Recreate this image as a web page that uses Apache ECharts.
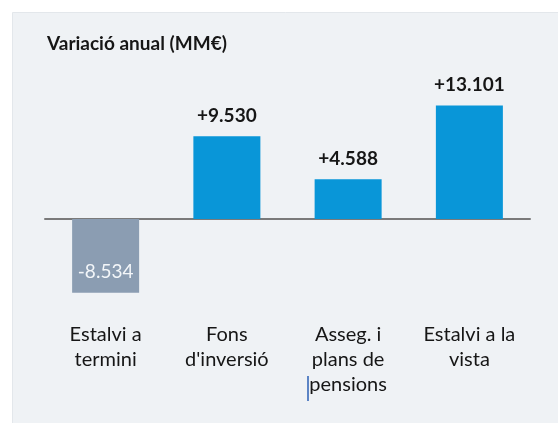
<!DOCTYPE html>
<html>
<head>
<meta charset="utf-8">
<script src="https://cdn.jsdelivr.net/npm/echarts@6/dist/echarts.min.js"></script>
<style>
    html, body { margin: 0; padding: 0; background: #ffffff; }
    #main { width: 558px; height: 423px; }
</style>
</head>
<body>
<div id="main"></div>
<script>
let categories = ['Estalvi a\ntermini', "Fons\nd'inversió", 'Asseg. i\nplans de\npensions', 'Estalvi a la\nvista'];
let values = [-8534, 9530, 4588, 13101];
let titleText = 'Variació anual (MM€)';

let colors = {
    positive: '#0996d8',
    negative: '#8b9db2',
    panel: '#eff2f5',
    text: '#161616'
};

function formatValue(v) {
    let s = Math.abs(v).toString().replace(/\B(?=(\d{3})+(?!\d))/g, '.');
    return (v < 0 ? '-' : '+') + s;
}

let seriesData = values.map(v => ({
    value: v,
    itemStyle: { color: v < 0 ? colors.negative : colors.positive },
    label: v < 0 ? {
        position: 'insideBottom',
        distance: 11,
        color: '#f3f6f9',
        fontWeight: 'normal',
        fontSize: 19
    } : {}
}));

const option = {
    backgroundColor: '#ffffff',
    textStyle: { fontFamily: 'Lato, "Open Sans", sans-serif' },
    graphic: [{
        type: 'rect',
        left: 12, top: 12,
        shape: { width: 546, height: 411 },
        style: { fill: colors.panel, stroke: '#e3e7eb', lineWidth: 1 },
        z: -10
    }, {
        // stray text cursor visible in the original
        type: 'line',
        shape: { x1: 308, y1: 376, x2: 308, y2: 401 },
        style: { stroke: '#2b5fb4', lineWidth: 1.5 }
    }],
    title: {
        text: titleText,
        left: 47,
        top: 34,
        padding: 0,
        textStyle: { fontSize: 19, fontWeight: 'bold', color: colors.text }
    },
    grid: { left: 45, right: 28, top: 89, bottom: 117.5, outerBoundsMode: 'none' },
    xAxis: {
        type: 'category',
        data: categories,
        axisLine: { onZero: true, lineStyle: { color: '#7a7a7a', width: 2 } },
        axisTick: { show: false },
        axisLabel: {
            margin: 17,
            fontSize: 20,
            lineHeight: 25,
            color: colors.text,
            interval: 0
        }
    },
    yAxis: {
        type: 'value',
        min: -10000,
        max: 15000,
        show: false,
        splitLine: { show: false }
    },
    series: [{
        type: 'bar',
        data: seriesData,
        barWidth: 67,
        label: {
            show: true,
            position: 'top',
            distance: 11,
            fontSize: 19,
            fontWeight: 'bold',
            color: colors.text,
            formatter: p => formatValue(p.value)
        }
    }]
};

let plot = echarts.init(document.querySelector('#main'));
plot.setOption(option);
</script>
</body>
</html>
